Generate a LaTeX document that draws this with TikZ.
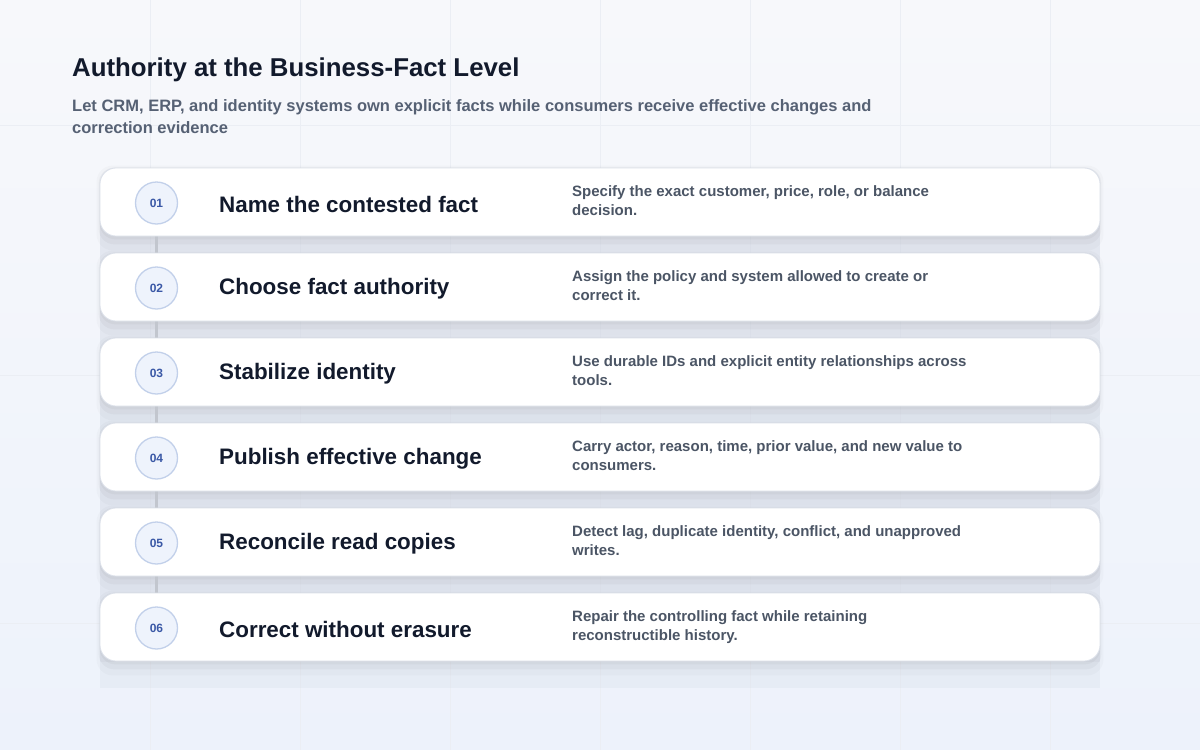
\documentclass[tikz,border=0pt]{standalone}
\usepackage{fontspec}
\setmainfont{Liberation Sans}
\usetikzlibrary{backgrounds}
\definecolor{bgA}{HTML}{F7F8FB}
\definecolor{bgB}{HTML}{EDF2FB}
\definecolor{gridc}{HTML}{EBEEF4}
\definecolor{panelc}{HTML}{D6DCE8}
\definecolor{cardborder}{HTML}{DCE1EA}
\definecolor{badgefill}{HTML}{EEF3FC}
\definecolor{badgeborder}{HTML}{C2D0EA}
\definecolor{badgetext}{HTML}{3A58A6}
\definecolor{titlec}{HTML}{121A2C}
\definecolor{subc}{HTML}{566174}
\definecolor{descc}{HTML}{4B5565}
\definecolor{connc}{HTML}{C2C6CE}
\tikzset{
  card/.style={draw=cardborder, line width=0.8pt, fill=white, rounded corners=16pt,
    minimum width=1000pt, minimum height=68pt, inner sep=0pt},
  badge/.style={circle, draw=badgeborder, line width=1.3pt, fill=badgefill,
    minimum size=42pt, inner sep=0pt, text=badgetext,
    font=\bfseries\fontsize{12}{14}\selectfont},
  steptitle/.style={anchor=west, inner sep=0pt, text=titlec,
    font=\bfseries\fontsize{22.4}{26}\selectfont},
  desc/.style={anchor=north west, inner sep=0pt, align=left, text=descc,
    font=\bfseries\fontsize{15}{19.5}\selectfont},
  conn/.style={draw=connc, line width=3.5pt},
  gridline/.style={draw=gridc, line width=0.8pt},
  cardshadow/.style={fill=black, rounded corners=16pt},
}
\begin{document}
\begin{tikzpicture}[x=1pt,y=-1pt]
\useasboundingbox (0,0) rectangle (1200,750);

% title
\node[anchor=base west, inner sep=0pt, text=titlec, font=\bfseries\fontsize{25.8}{30}\selectfont]
  (title) at (72,76) {Authority at the Business-Fact Level};
\node[anchor=north west, inner sep=0pt, text=subc, align=left,
  font=\bfseries\fontsize{16.5}{22.5}\selectfont]
  (sub) at (72,99) {Let CRM, ERP, and identity systems own explicit facts while consumers receive effective changes and\\correction evidence};

% cards
\foreach \i/\num/\ttl/\dA/\dB in {
  1/01/Name the contested fact/{Specify the exact customer, price, role, or balance}/{decision.},
  2/02/Choose fact authority/{Assign the policy and system allowed to create or}/{correct it.},
  3/03/Stabilize identity/{Use durable IDs and explicit entity relationships across}/{tools.},
  4/04/Publish effective change/{Carry actor, reason, time, prior value, and new value to}/{consumers.},
  5/05/Reconcile read copies/{Detect lag, duplicate identity, conflict, and unapproved}/{writes.},
  6/06/Correct without erasure/{Repair the controlling fact while retaining}/{reconstructible history.}}
{
  \pgfmathsetmacro{\cy}{202+85*(\i-1)}
  \node[card] (c\i) at (600,\cy) {};
  \node[badge] (b\i) at (156.5,\cy+1) {\num};
  \node[steptitle] (t\i) at (219,\cy+2) {\ttl};
  \node[desc] (d\i) at (572,\cy-17) {\dA\\\dB};
}

\begin{scope}[on background layer]
  \shade[top color=bgA, bottom color=bgB] (0,0) rectangle (1200,750);
  \foreach \gx in {150,300,...,1050} \draw[gridline] (\gx,0) -- (\gx,750);
  \foreach \gy in {125,375,623} \draw[gridline] (0,\gy) -- (1200,\gy);
  % stack shadow panel
  \fill[panelc, opacity=0.3] (100,200) rectangle (1100,688);
  \fill[panelc, opacity=0.35] (100,200) rectangle (1100,662);
  \foreach \i in {1,...,6} {
    \fill[cardshadow, opacity=0.02] ([xshift=-3pt,yshift=2pt]c\i.north west) rectangle ([xshift=3pt,yshift=-14pt]c\i.south east);
    \fill[cardshadow, opacity=0.03] ([xshift=-1pt,yshift=0pt]c\i.north west) rectangle ([xshift=1pt,yshift=-8pt]c\i.south east);
    \fill[cardshadow, opacity=0.03] (c\i.north west) rectangle ([yshift=-3pt]c\i.south east);
  }
  \foreach \i/\j in {1/2,2/3,3/4,4/5,5/6}
    \draw[conn] (b\i) -- (b\j);
\end{scope}
\end{tikzpicture}
\end{document}
